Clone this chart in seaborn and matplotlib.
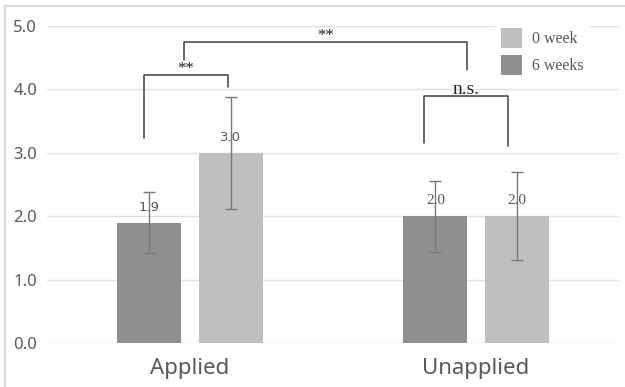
import matplotlib
matplotlib.use("Agg")
import matplotlib.pyplot as plt
import seaborn as sns
import pandas as pd
from matplotlib.lines import Line2D
from matplotlib.patches import Patch
from matplotlib.font_manager import FontProperties

# ---- data ----
groups = ["Applied", "Unapplied"]
periods = ["6 weeks", "0 week"]
means_6w = [1.9, 2.0]
means_0w = [3.0, 2.0]
sd_6w = [0.48, 0.56]
sd_0w = [0.88, 0.69]
labels_6w = ["1.9", "2.0"]
labels_0w = ["3.0", "2.0"]
yticks = [0, 1, 2, 3, 4, 5]
legend_labels = ["0 week", "6 weeks"]

# significance annotations: (x_left, x_right, y_top, y_left_end, y_right_end, text)
brackets = [
    (-0.161, 0.132, 4.22, 3.24, 4.03, "**"),
    (-0.02, 0.967, 4.75, 4.46, 4.31, "**"),
    (0.8165, 1.111, 3.90, 3.15, 3.107, "n.s."),
]

df = pd.DataFrame({
    "group": groups * 2,
    "period": [periods[0]] * 2 + [periods[1]] * 2,
    "mean": means_6w + means_0w,
    "sd": sd_6w + sd_0w,
    "label": labels_6w + labels_0w,
})

sns.set_theme(style="white")
plt.rcParams["font.family"] = ["Noto Sans", "DejaVu Sans"]

W, H = 625, 387
fig = plt.figure(figsize=(W / 100, H / 100), dpi=100)
ax = fig.add_axes([47 / W, 44 / H, 572 / W, 317 / H])

colors = {"6 weeks": "#8f8f8f", "0 week": "#bfbfbf"}
sns.barplot(data=df, x="group", y="mean", hue="period", order=groups,
            hue_order=periods, palette=colors, width=0.568, gap=0.21,
            errorbar=None, saturation=1, linewidth=0, legend=False,
            ax=ax, zorder=2)

label_font = {"Applied": ("DejaVu Sans", 9.5), "Unapplied": ("Liberation Serif", 11)}
for container, period in zip(ax.containers, periods):
    sub = df[df["period"] == period].set_index("group").loc[groups]
    for bar, (grp, row) in zip(container, sub.iterrows()):
        x = bar.get_x() + bar.get_width() / 2
        h = bar.get_height()
        ax.errorbar(x, h, yerr=row["sd"], fmt="none", ecolor="#7a7a7a",
                    elinewidth=1, capsize=4, capthick=1, zorder=3)
        fam, fs = label_font[grp]
        ax.annotate(row["label"], (x, h), xytext=(0, 11),
                    textcoords="offset points", ha="center", va="center",
                    fontsize=fs, color="#595959", family=fam, zorder=4)

for x1, x2, yt, yl, yr, txt in brackets:
    ax.plot([x1, x1, x2, x2], [yl, yt, yt, yr], color="#404040", lw=1.1,
            zorder=4, clip_on=False)
    ax.annotate(txt, ((x1 + x2) / 2, yt), xytext=(0, 1.5),
                textcoords="offset points", ha="center", va="baseline",
                fontsize=12 if txt == "**" else 14, color="#222222",
                family="Liberation Serif", zorder=4)

ax.set_xlim(-0.5, 1.5)
ax.set_ylim(0, 5)
ax.set_yticks(yticks)
ax.set_yticklabels([f"{v:.1f}" for v in yticks])
ax.yaxis.grid(True, color="#e0e0e0", lw=1)
ax.xaxis.grid(False)
ax.set_axisbelow(True)
for s in ax.spines.values():
    s.set_visible(False)
ax.tick_params(axis="y", length=0, pad=7, labelsize=12, labelcolor="#595959")
ax.tick_params(axis="x", length=0, pad=11, labelsize=16, labelcolor="#595959")
ax.set_xlabel("")
ax.set_ylabel("")

handles = [Patch(facecolor=colors["0 week"], edgecolor="none"),
           Patch(facecolor=colors["6 weeks"], edgecolor="none")]
fig.legend(handles, legend_labels, loc="upper left",
           bbox_to_anchor=(495 / W, 1 - 22 / H), frameon=True,
           facecolor="white", edgecolor="none", framealpha=1,
           prop=FontProperties(family="Liberation Serif", size=11.5),
           labelcolor="#595959", handlelength=1.3, handleheight=1.5,
           handletextpad=0.6, labelspacing=0.45, borderpad=0.4,
           borderaxespad=0, fancybox=False)

fig.add_artist(Line2D([4.5 / W, 4.5 / W], [0, 1 - 6 / H],
                      transform=fig.transFigure, color="#d9d9d9", lw=1.5))
fig.add_artist(Line2D([4.5 / W, 1], [1 - 6 / H, 1 - 6 / H],
                      transform=fig.transFigure, color="#d9d9d9", lw=1.5))

fig.savefig("out.png", dpi=100)
